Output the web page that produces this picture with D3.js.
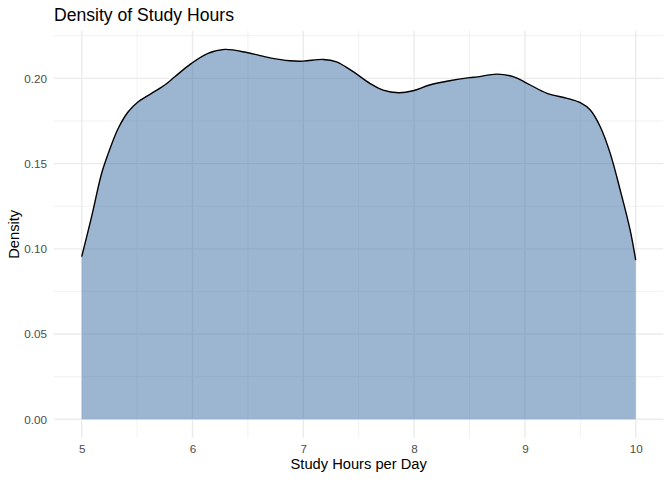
<!DOCTYPE html>
<html>
<head>
<meta charset="utf-8">
<script src="https://cdn.jsdelivr.net/npm/d3@7"></script>
<style>
  body { margin: 0; background: #fff; }
  text { font-family: "Liberation Sans", Arial, sans-serif; }
</style>
</head>
<body>
<script>
const hours = [5.00, 5.09, 5.18, 5.24, 5.33, 5.42, 5.51, 5.63, 5.75, 5.84, 5.99, 6.14, 6.29, 6.50,
    6.70, 6.88, 7.00, 7.18, 7.30, 7.45, 7.60, 7.72, 7.86, 7.99, 8.14, 8.32, 8.50, 8.57, 8.75,
    8.90, 9.02, 9.20, 9.38, 9.50, 9.59, 9.68, 9.77, 9.86, 9.95, 10.00]
const density = [0.0954, 0.1190, 0.1443, 0.1560, 0.1707, 0.1804, 0.1863, 0.1912, 0.1961, 0.2009,
    0.2088, 0.2147, 0.2170, 0.2150, 0.2120, 0.2103, 0.2101, 0.2111, 0.2097, 0.2039, 0.1971,
    0.1931, 0.1916, 0.1927, 0.1961, 0.1986, 0.2004, 0.2009, 0.2025, 0.2009, 0.1971, 0.1912,
    0.1883, 0.1857, 0.1814, 0.1716, 0.1560, 0.1345, 0.1110, 0.0934]

const xTicks = [5, 6, 7, 8, 9, 10]
const xMinor = [5.5, 6.5, 7.5, 8.5, 9.5]
const yTicks = [0, 0.05, 0.10, 0.15, 0.20]
const yMinor = [0.025, 0.075, 0.125, 0.175, 0.225]

const data = hours.map((h, i) => ({ x: h, y: density[i] }))

const width = 672, height = 480
const panel = { left: 54, right: 663.4, top: 30.8, bottom: 437.8 }

const svg = d3.select("body")
    .append("svg")
    .attr("width", width)
    .attr("height", height)

const x = d3.scaleLinear().domain([4.75, 10.25]).range([panel.left, panel.right])
const y = d3.scaleLinear().domain([-0.01085, 0.2279]).range([panel.bottom, panel.top])

// Grille
const grid = svg.append("g")

grid.selectAll(".minor-x").data(xMinor).enter().append("line")
    .attr("x1", d => x(d)).attr("x2", d => x(d))
    .attr("y1", panel.top).attr("y2", panel.bottom)
    .attr("stroke", "#ebebeb").attr("stroke-width", 0.7)

grid.selectAll(".minor-y").data(yMinor).enter().append("line")
    .attr("x1", panel.left).attr("x2", panel.right)
    .attr("y1", d => y(d)).attr("y2", d => y(d))
    .attr("stroke", "#ebebeb").attr("stroke-width", 0.7)

grid.selectAll(".major-x").data(xTicks).enter().append("line")
    .attr("x1", d => x(d)).attr("x2", d => x(d))
    .attr("y1", panel.top).attr("y2", panel.bottom)
    .attr("stroke", "#ebebeb").attr("stroke-width", 1.4)

grid.selectAll(".major-y").data(yTicks).enter().append("line")
    .attr("x1", panel.left).attr("x2", panel.right)
    .attr("y1", d => y(d)).attr("y2", d => y(d))
    .attr("stroke", "#ebebeb").attr("stroke-width", 1.4)

// Aire + contour
const area = d3.area()
    .x(d => x(d.x))
    .y0(y(0))
    .y1(d => y(d.y))
    .curve(d3.curveCatmullRom.alpha(0.5))

const line = d3.line()
    .x(d => x(d.x))
    .y(d => y(d.y))
    .curve(d3.curveCatmullRom.alpha(0.5))

svg.append("path")
    .datum(data)
    .attr("d", area)
    .attr("fill", "#3a6ea5")
    .attr("fill-opacity", 0.5)

svg.append("path")
    .datum(data)
    .attr("d", line)
    .attr("fill", "none")
    .attr("stroke", "#000")
    .attr("stroke-width", 1.4)

// Axes (sans ligne ni graduations, comme theme_minimal)
const xAxis = svg.append("g")
    .attr("transform", `translate(0,${panel.bottom})`)
    .call(d3.axisBottom(x).tickValues(xTicks).tickSize(0).tickPadding(7).tickFormat(d3.format("d")))
xAxis.select(".domain").remove()
xAxis.selectAll("text")
    .attr("font-family", "Liberation Sans, Arial, sans-serif")
    .attr("font-size", 11.7)
    .attr("fill", "#4d4d4d")

const yAxis = svg.append("g")
    .attr("transform", `translate(${panel.left},0)`)
    .call(d3.axisLeft(y).tickValues(yTicks).tickSize(0).tickPadding(7).tickFormat(d3.format(".2f")))
yAxis.select(".domain").remove()
yAxis.selectAll("text")
    .attr("font-family", "Liberation Sans, Arial, sans-serif")
    .attr("font-size", 11.7)
    .attr("fill", "#4d4d4d")

// Titres
svg.append("text")
    .attr("x", panel.left)
    .attr("y", 21)
    .attr("font-size", 17.6)
    .attr("fill", "#000")
    .text("Density of Study Hours")

svg.append("text")
    .attr("x", (panel.left + panel.right) / 2)
    .attr("y", 469)
    .attr("text-anchor", "middle")
    .attr("font-size", 14.7)
    .attr("fill", "#000")
    .text("Study Hours per Day")

svg.append("text")
    .attr("transform", `translate(18.5,${(panel.top + panel.bottom) / 2}) rotate(-90)`)
    .attr("text-anchor", "middle")
    .attr("font-size", 14.7)
    .attr("fill", "#000")
    .text("Density")
</script>
</body>
</html>
